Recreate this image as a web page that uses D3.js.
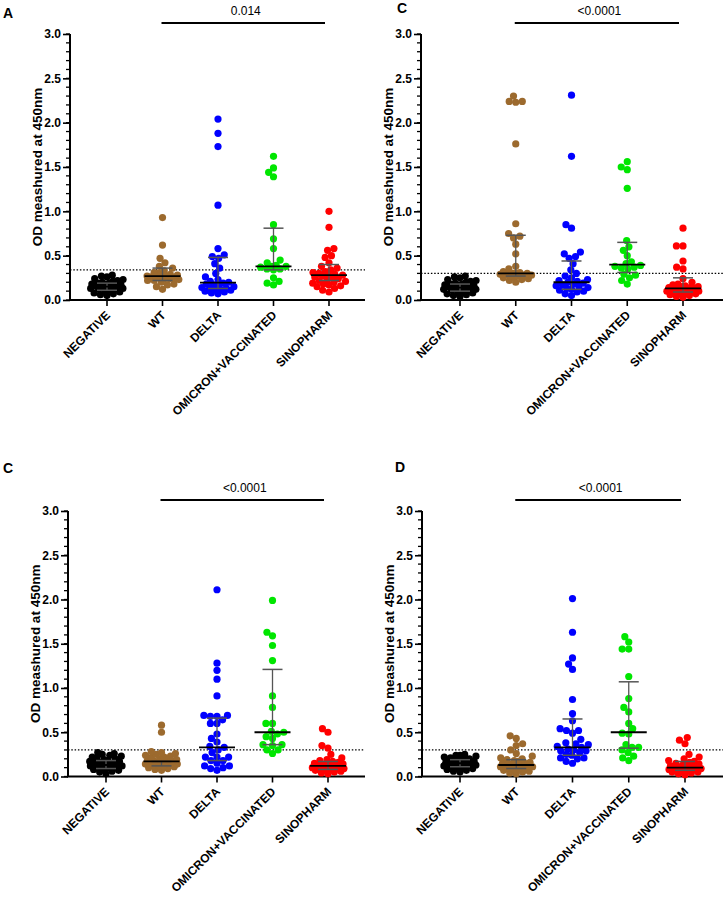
<!DOCTYPE html>
<html><head><meta charset="utf-8">
<script src="https://cdn.jsdelivr.net/npm/d3@7"></script>
<style>body{margin:0;background:#fff} svg{display:block} text{font-family:"Liberation Sans",Arial,sans-serif}</style>
</head><body><svg id="c" width="723" height="900"></svg>
<script>
const categories = ["NEGATIVE","WT","DELTA","OMICRON+VACCINATED","SINOPHARM"];
const colors = ["#000000","#9c6a2e","#0000ff","#00e600","#ff0000"];
const yTicks = [0,0.5,1.0,1.5,2.0,2.5,3.0];
const yTitle = "OD meashured at 450nm";
const panelLetters = ["A","C","C","D"];
const pLabels = ["0.014","<0.0001","<0.0001","<0.0001"];
const cutoffs = [0.34,0.30,0.30,0.30];

// Panel A
const negA = [0.28,0.27,0.26,0.24,0.23,0.22,0.21,0.20,0.19,0.19,0.18,0.18,0.17,0.17,0.16,0.16,0.15,0.15,0.14,0.14,0.13,0.13,0.12,0.12,0.11,0.10,0.09,0.08,0.07,0.06,0.05];
const wtA = [0.93,0.62,0.47,0.42,0.38,0.36,0.33,0.31,0.30,0.29,0.28,0.28,0.27,0.27,0.26,0.26,0.25,0.25,0.24,0.24,0.23,0.22,0.22,0.20,0.18,0.17,0.15,0.12];
const deltaA = [2.04,1.88,1.73,1.07,0.58,0.51,0.49,0.47,0.41,0.36,0.30,0.26,0.23,0.21,0.20,0.19,0.18,0.17,0.16,0.15,0.14,0.13,0.13,0.12,0.12,0.11,0.10,0.09,0.08,0.07];
const omiA = [1.62,1.49,1.44,1.39,0.85,0.69,0.58,0.45,0.42,0.39,0.38,0.38,0.37,0.35,0.35,0.34,0.25,0.21,0.19,0.17];
const sinoA = [1.00,0.82,0.58,0.56,0.50,0.48,0.42,0.38,0.36,0.34,0.32,0.31,0.30,0.29,0.28,0.28,0.27,0.26,0.25,0.24,0.23,0.22,0.21,0.20,0.19,0.18,0.17,0.16,0.15,0.13,0.11,0.09];
const medA = [0.15,0.27,0.195,0.38,0.28];
const q1A = [0.11,0.22,0.13,0.34,0.22];
const q3A = [0.19,0.36,0.48,0.81,0.40];

// Panel C (top right)
const negC = [0.27,0.26,0.25,0.23,0.22,0.21,0.20,0.19,0.18,0.18,0.17,0.17,0.16,0.16,0.15,0.15,0.14,0.14,0.13,0.13,0.12,0.12,0.11,0.11,0.10,0.09,0.08,0.07,0.06,0.05,0.04];
const wtC = [2.30,2.24,2.24,2.23,1.76,0.86,0.75,0.72,0.70,0.63,0.52,0.38,0.35,0.32,0.31,0.30,0.30,0.30,0.29,0.29,0.28,0.28,0.27,0.27,0.26,0.25,0.24,0.23,0.22,0.20];
const deltaC = [2.31,1.62,0.85,0.81,0.54,0.52,0.49,0.47,0.41,0.34,0.30,0.27,0.25,0.23,0.22,0.21,0.20,0.19,0.18,0.17,0.16,0.15,0.14,0.13,0.12,0.11,0.10,0.09,0.07,0.05];
const omiC = [1.56,1.50,1.47,1.26,0.67,0.60,0.56,0.50,0.43,0.41,0.39,0.38,0.37,0.36,0.35,0.29,0.28,0.25,0.22,0.18];
const sinoC = [0.81,0.61,0.61,0.44,0.37,0.35,0.24,0.20,0.18,0.17,0.16,0.15,0.15,0.14,0.14,0.13,0.13,0.12,0.12,0.11,0.11,0.10,0.10,0.09,0.09,0.08,0.08,0.07,0.06,0.05,0.04,0.03];
const medC = [0.14,0.30,0.20,0.40,0.13];
const q1C = [0.10,0.27,0.12,0.31,0.09];
const q3C = [0.18,0.73,0.44,0.65,0.25];

// Panel C (bottom left)
const negC2 = [0.27,0.26,0.25,0.24,0.23,0.22,0.21,0.20,0.19,0.18,0.17,0.17,0.16,0.16,0.15,0.15,0.14,0.14,0.13,0.13,0.12,0.12,0.11,0.11,0.10,0.09,0.08,0.07,0.06,0.05,0.03];
const wtC2 = [0.58,0.50,0.28,0.27,0.26,0.25,0.24,0.23,0.22,0.21,0.20,0.19,0.18,0.18,0.17,0.17,0.16,0.16,0.15,0.15,0.14,0.14,0.13,0.13,0.12,0.12,0.11,0.10,0.09,0.08,0.07];
const deltaC2 = [2.11,1.28,1.20,1.10,0.91,0.69,0.69,0.68,0.68,0.64,0.60,0.60,0.48,0.43,0.39,0.34,0.33,0.30,0.27,0.22,0.22,0.22,0.18,0.18,0.15,0.12,0.12,0.10,0.09,0.07];
const omiC2 = [1.99,1.63,1.59,1.48,1.31,0.91,0.78,0.60,0.60,0.51,0.50,0.48,0.45,0.43,0.36,0.36,0.35,0.30,0.30,0.26];
const sinoC2 = [0.54,0.50,0.35,0.32,0.25,0.21,0.19,0.18,0.17,0.16,0.15,0.15,0.14,0.14,0.13,0.13,0.12,0.12,0.11,0.11,0.10,0.10,0.09,0.09,0.08,0.08,0.07,0.07,0.06,0.05,0.04,0.03];
const medC2 = [0.13,0.17,0.33,0.50,0.12];
const q1C2 = [0.09,0.12,0.18,0.36,0.08];
const q3C2 = [0.18,0.17,0.66,1.21,0.17];

// Panel D
const negD = [0.25,0.24,0.24,0.23,0.22,0.21,0.20,0.19,0.19,0.18,0.18,0.17,0.17,0.16,0.16,0.15,0.15,0.14,0.14,0.13,0.13,0.12,0.12,0.11,0.10,0.10,0.09,0.08,0.07,0.06,0.05];
const wtD = [0.46,0.43,0.37,0.35,0.30,0.26,0.23,0.21,0.20,0.19,0.18,0.17,0.16,0.15,0.15,0.14,0.14,0.13,0.13,0.12,0.12,0.11,0.11,0.10,0.10,0.09,0.08,0.07,0.06,0.05,0.04,0.03];
const deltaD = [2.01,1.63,1.34,1.27,1.21,0.87,0.71,0.63,0.54,0.52,0.52,0.49,0.42,0.38,0.37,0.36,0.34,0.33,0.31,0.30,0.29,0.29,0.27,0.25,0.24,0.21,0.21,0.20,0.17,0.15];
const omiD = [1.58,1.52,1.44,1.44,1.13,0.88,0.78,0.73,0.60,0.54,0.49,0.48,0.36,0.33,0.33,0.30,0.27,0.23,0.21,0.18];
const sinoD = [0.44,0.41,0.37,0.25,0.22,0.20,0.18,0.17,0.16,0.15,0.14,0.14,0.13,0.12,0.12,0.11,0.11,0.10,0.10,0.10,0.09,0.09,0.08,0.08,0.07,0.07,0.06,0.05,0.05,0.04,0.03,0.02];
const medD = [0.15,0.13,0.33,0.50,0.10];
const q1D = [0.11,0.09,0.24,0.32,0.07];
const q3D = [0.19,0.19,0.65,1.07,0.17];

const panelData = [
  {series:[negA,wtA,deltaA,omiA,sinoA], med:medA, q1:q1A, q3:q3A},
  {series:[negC,wtC,deltaC,omiC,sinoC], med:medC, q1:q1C, q3:q3C},
  {series:[negC2,wtC2,deltaC2,omiC2,sinoC2], med:medC2, q1:q1C2, q3:q3C2},
  {series:[negD,wtD,deltaD,omiD,sinoD], med:medD, q1:q1D, q3:q3D}
];

// layout (pixels)
const layout = [
  {axisX:70, yTop:34, yBot:300, x1:107, x2:329, xEnd:365, letterX:3, letterY:18, sigY:23, sigTextY:15},
  {axisX:421, yTop:34, yBot:300, x1:460, x2:683, xEnd:723, letterX:397, letterY:13, sigY:23, sigTextY:15},
  {axisX:68, yTop:511, yBot:776.5, x1:106, x2:328, xEnd:365, letterX:3, letterY:473, sigY:500, sigTextY:492},
  {axisX:422, yTop:511, yBot:776.5, x1:460, x2:685, xEnd:723, letterX:395, letterY:472, sigY:500, sigTextY:492}
];

const svg = d3.select("#c");

function swarm(vals, ys, D, maxW) {
  const pts = vals.map(v => ({v, y: ys(v)})).sort((a,b) => b.y - a.y);
  const placed = [];
  for (const p of pts) {
    let d = D, x = null;
    while (x === null) {
      const near = placed.filter(q => Math.abs(q.y - p.y) < d);
      const cands = [0];
      near.forEach(q => { const w = Math.sqrt(d*d - (q.y-p.y)**2); cands.push(q.x - w, q.x + w); });
      cands.sort((a,b) => Math.abs(a) - Math.abs(b) || a - b);
      for (const c of cands) {
        if (Math.abs(c) > maxW) break;
        if (near.every(q => (q.x-c)**2 + (q.y-p.y)**2 >= d*d - 0.01)) { x = c; break; }
      }
      d *= 0.85;
      if (x === null && d < 1) x = 0;
    }
    p.x = x; placed.push(p);
  }
  return pts;
}

panelData.forEach((pd, i) => {
  const L = layout[i];
  const g = svg.append("g");
  const y = d3.scaleLinear().domain([0,3]).range([L.yBot, L.yTop]);
  const x = d3.scalePoint().domain(categories).range([L.x1, L.x2]);

  // minor ticks
  g.append("g").selectAll("line").data(d3.range(0, 31).map(k => k/10)).join("line")
    .attr("x1", L.axisX - 4).attr("x2", L.axisX).attr("y1", d => y(d)).attr("y2", d => y(d))
    .attr("stroke", "#000").attr("stroke-width", 1.3);

  // y axis
  const ya = g.append("g").attr("transform", `translate(${L.axisX},0)`)
    .call(d3.axisLeft(y).tickValues(yTicks).tickFormat(d3.format(".1f")).tickSize(7).tickPadding(2));
  ya.select(".domain").attr("stroke-width", 2).attr("d", `M0,${L.yTop}V${L.yBot}`);
  ya.selectAll(".tick line").attr("stroke-width", 1.6);
  ya.selectAll(".tick text").attr("font-size", 12).attr("font-weight", "bold").attr("fill", "#000")
    .attr("font-family", "Liberation Sans, Arial, sans-serif");

  // x axis
  g.append("line").attr("x1", L.axisX - 1).attr("x2", L.xEnd).attr("y1", L.yBot).attr("y2", L.yBot)
    .attr("stroke", "#000").attr("stroke-width", 2);
  g.append("g").selectAll("line").data(categories).join("line")
    .attr("x1", d => x(d)).attr("x2", d => x(d)).attr("y1", L.yBot).attr("y2", L.yBot + 6)
    .attr("stroke", "#000").attr("stroke-width", 1.6);
  g.append("g").selectAll("text").data(categories).join("text")
    .attr("transform", d => `translate(${x(d) + 1},${L.yBot + 13}) rotate(-45)`)
    .attr("text-anchor", "end").attr("dy", "0.35em")
    .attr("font-size", 12).attr("font-weight", "bold").text(d => d);

  // y title
  g.append("text").attr("transform", `translate(${L.axisX - 33},${(L.yTop + L.yBot)/2}) rotate(-90)`)
    .attr("text-anchor", "middle").attr("dy", "0.35em").attr("font-size", 13.5).attr("font-weight", "bold")
    .text(yTitle);

  // cutoff dotted line
  g.append("line").attr("x1", L.axisX).attr("x2", L.xEnd).attr("y1", y(cutoffs[i])).attr("y2", y(cutoffs[i]))
    .attr("stroke", "#000").attr("stroke-width", 1.3).attr("stroke-dasharray", "1.5,1.8");

  // points
  pd.series.forEach((vals, k) => {
    const pts = swarm(vals, y, 6.6, 16.5);
    g.append("g").selectAll("circle").data(pts).join("circle")
      .attr("cx", d => x(categories[k]) + d.x).attr("cy", d => d.y).attr("r", 3.6)
      .attr("fill", colors[k]);
  });

  // median + IQR
  categories.forEach((c, k) => {
    const cx = x(c);
    g.append("line").attr("x1", cx).attr("x2", cx).attr("y1", y(pd.q1[k])).attr("y2", y(pd.q3[k]))
      .attr("stroke", "#555").attr("stroke-width", 1.3);
    [pd.q1[k], pd.q3[k]].forEach(q => {
      g.append("line").attr("x1", cx - 10).attr("x2", cx + 10).attr("y1", y(q)).attr("y2", y(q))
        .attr("stroke", "#555").attr("stroke-width", 1.5);
    });
    g.append("line").attr("x1", cx - 18).attr("x2", cx + 18).attr("y1", y(pd.med[k])).attr("y2", y(pd.med[k]))
      .attr("stroke", "#000").attr("stroke-width", 1.8);
  });

  // significance bar
  g.append("line").attr("x1", x("WT") - 1).attr("x2", x("SINOPHARM") - 4).attr("y1", L.sigY).attr("y2", L.sigY)
    .attr("stroke", "#000").attr("stroke-width", 1.8);
  g.append("text").attr("x", (x("WT") + x("SINOPHARM")) / 2).attr("y", L.sigTextY)
    .attr("text-anchor", "middle").attr("font-size", 12).text(pLabels[i]);

  // panel letter
  g.append("text").attr("x", L.letterX).attr("y", L.letterY).attr("font-size", 14).attr("font-weight", "bold")
    .text(panelLetters[i]);
});
</script></body></html>
